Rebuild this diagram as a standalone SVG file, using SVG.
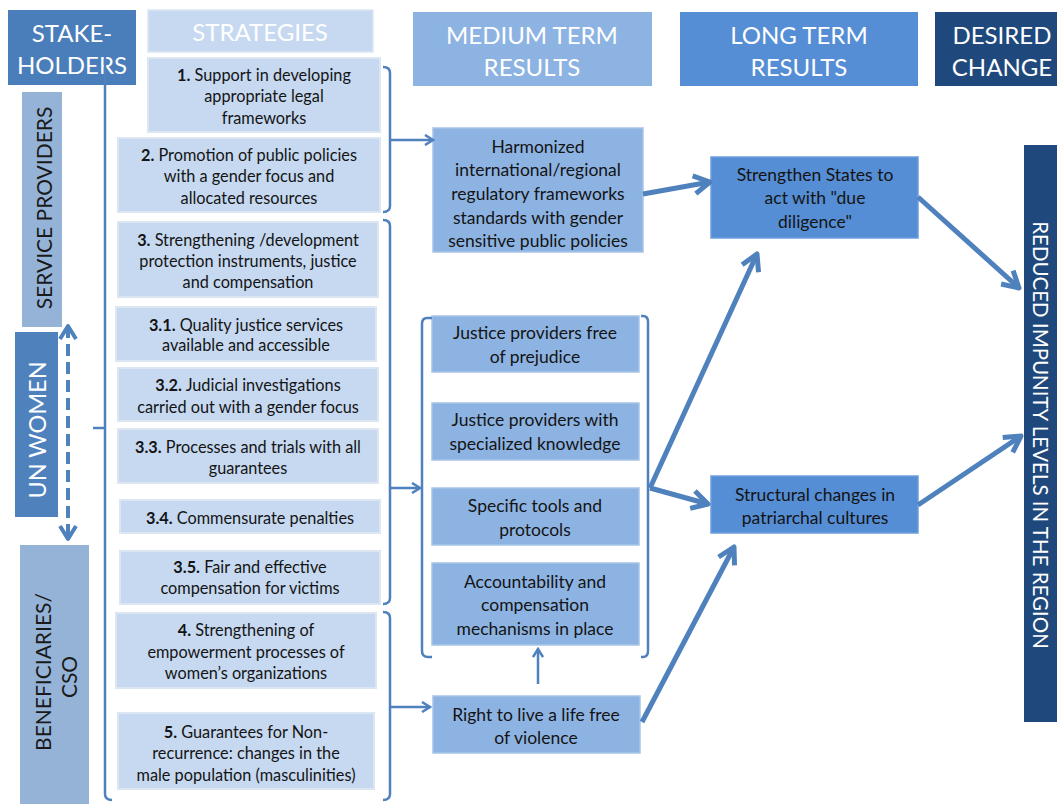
<svg xmlns="http://www.w3.org/2000/svg" width="1057" height="804" viewBox="0 0 1057 804">
<style>
text{font-family:Lato,"Open Sans","Liberation Sans",sans-serif;}
.hd{font-size:24px;fill:#ffffff;text-anchor:middle;}
.st{fill:#c6d9f1;stroke:#dce6f2;stroke-width:2;}
.mt{fill:#8db3e2;stroke:#a6c4e8;stroke-width:1.5;}
.lt{fill:#558ed5;stroke:#6d9edb;stroke-width:1.5;}
.t{font-size:16.3px;fill:#141414;text-anchor:middle;}
.m{font-size:17.5px;fill:#141414;text-anchor:middle;}
.b{font-weight:bold;}
.br{fill:none;stroke:#4f81bd;stroke-width:2.5;stroke-linejoin:round;}
.thick{fill:none;stroke:#4f81bd;stroke-width:5;}
.vt{font-size:21px;text-anchor:middle;dominant-baseline:central;}
</style>
<defs>
<marker id="ah" viewBox="0 0 12 12" refX="10" refY="6" markerWidth="12" markerHeight="12" markerUnits="userSpaceOnUse" orient="auto-start-reverse">
<path d="M2,1 L10,6 L2,11" fill="none" stroke="#4f81bd" stroke-width="2.5"/>
</marker>
<marker id="ahT" viewBox="0 0 24 24" refX="20" refY="12" markerWidth="24" markerHeight="24" markerUnits="userSpaceOnUse" orient="auto">
<path d="M4,3 L20,12 L4,21" fill="none" stroke="#4f81bd" stroke-width="5" stroke-linejoin="round"/>
</marker>
<marker id="ahD" viewBox="0 0 20 20" refX="16" refY="10" markerWidth="20" markerHeight="20" markerUnits="userSpaceOnUse" orient="auto-start-reverse">
<path d="M3,2 L16,10 L3,18" fill="none" stroke="#4f81bd" stroke-width="4" stroke-linejoin="round"/>
</marker>
</defs>
<rect width="1057" height="804" fill="#ffffff"/>

<g id="headers">
<g id="h-stake"><rect x="8" y="10" width="128" height="75" fill="#4a7ebb"/><text class="hd" x="72" y="42">STAKE-</text><text class="hd" x="72" y="74">HOLDERS</text></g>
<g id="h-strat"><rect x="148" y="10" width="225" height="42" fill="#c6d9f1" stroke="#dce6f2" stroke-width="1.5"/><text class="hd" x="260" y="41">STRATEGIES</text></g>
<g id="h-med"><rect x="413" y="12" width="239" height="74" fill="#8db3e2"/><text class="hd" x="532" y="44">MEDIUM TERM</text><text class="hd" x="532" y="76">RESULTS</text></g>
<g id="h-long"><rect x="680" y="12" width="238" height="74" fill="#558ed5"/><text class="hd" x="799" y="44">LONG TERM</text><text class="hd" x="799" y="76">RESULTS</text></g>
<g id="h-des"><rect x="935" y="12" width="122" height="74" fill="#1f497d"/><text class="hd" x="1002" y="44">DESIRED</text><text class="hd" x="1002" y="76">CHANGE</text></g>
</g>

<g id="stakeholders">
<g id="sh-service"><rect x="22" y="92" width="40" height="235" fill="#95b3d7"/><text class="vt" fill="#1a1a1a" transform="translate(43,208) rotate(-90)">SERVICE PROVIDERS</text></g>
<g id="sh-unwomen"><rect x="15" y="332" width="43" height="185" fill="#4f81bd"/><text class="vt" fill="#ffffff" style="font-size:23.5px" transform="translate(37,430) rotate(-90)">UN WOMEN</text></g>
<g id="sh-benef"><rect x="20" y="545" width="69" height="259" fill="#95b3d7"/><text class="vt" fill="#1a1a1a" transform="translate(42,672) rotate(-90)">BENEFICIARIES/</text><text class="vt" fill="#1a1a1a" transform="translate(68,677) rotate(-90)">CSO</text></g>
</g>

<g id="strategies">
<g id="s1"><rect class="st" x="148" y="58" width="232" height="74"/><text class="t" x="264" y="81"><tspan class="b">1.</tspan> Support in developing</text><text class="t" x="264" y="102">appropriate legal</text><text class="t" x="264" y="124">frameworks</text></g>
<g id="s2"><rect class="st" x="118" y="138" width="262" height="74"/><text class="t" x="249" y="161"><tspan class="b">2.</tspan> Promotion of public policies</text><text class="t" x="249" y="182">with a gender focus and</text><text class="t" x="249" y="204">allocated resources</text></g>
<g id="s3"><rect class="st" x="118" y="222" width="260" height="75"/><text class="t" x="248" y="246"><tspan class="b">3.</tspan> Strengthening /development</text><text class="t" x="248" y="267">protection instruments, justice</text><text class="t" x="248" y="288">and compensation</text></g>
<g id="s31"><rect class="st" x="116" y="307" width="260" height="54"/><text class="t" x="246" y="331"><tspan class="b">3.1.</tspan> Quality justice services</text><text class="t" x="246" y="351">available and accessible</text></g>
<g id="s32"><rect class="st" x="118" y="368" width="260" height="53"/><text class="t" x="248" y="391"><tspan class="b">3.2.</tspan> Judicial investigations</text><text class="t" x="248" y="413">carried out with a gender focus</text></g>
<g id="s33"><rect class="st" x="118" y="429" width="260" height="54"/><text class="t" x="248" y="453"><tspan class="b">3.3.</tspan> Processes and trials with all</text><text class="t" x="248" y="474">guarantees</text></g>
<g id="s34"><rect class="st" x="120" y="500" width="260" height="33"/><text class="t" x="250" y="524"><tspan class="b">3.4.</tspan> Commensurate penalties</text></g>
<g id="s35"><rect class="st" x="120" y="551" width="260" height="53"/><text class="t" x="250" y="573"><tspan class="b">3.5.</tspan> Fair and effective</text><text class="t" x="250" y="594">compensation for victims</text></g>
<g id="s4"><rect class="st" x="116" y="613" width="260" height="75"/><text class="t" x="246" y="636"><tspan class="b">4.</tspan> Strengthening of</text><text class="t" x="246" y="658">empowerment processes of</text><text class="t" x="246" y="679">women’s organizations</text></g>
<g id="s5"><rect class="st" x="118" y="713" width="256" height="76"/><text class="t" x="246" y="738"><tspan class="b">5.</tspan> Guarantees for Non-</text><text class="t" x="246" y="759">recurrence: changes in the</text><text class="t" x="246" y="781">male population (masculinities)</text></g>
</g>

<g id="medium">
<g id="m-harm"><rect class="mt" x="433" y="128" width="210" height="124"/><text class="m" x="538" y="153">Harmonized</text><text class="m" x="538" y="176">international/regional</text><text class="m" x="538" y="200">regulatory frameworks</text><text class="m" x="538" y="224">standards with gender</text><text class="m" x="538" y="247">sensitive public policies</text></g>
<g id="m-jfree"><rect class="mt" x="432" y="316" width="207" height="56"/><text class="m" x="535" y="339">Justice providers free</text><text class="m" x="535" y="363">of prejudice</text></g>
<g id="m-jknow"><rect class="mt" x="432" y="403" width="207" height="57"/><text class="m" x="535" y="426">Justice providers with</text><text class="m" x="535" y="450">specialized knowledge</text></g>
<g id="m-tools"><rect class="mt" x="432" y="488" width="207" height="57"/><text class="m" x="535" y="512">Specific tools and</text><text class="m" x="535" y="536">protocols</text></g>
<g id="m-acc"><rect class="mt" x="432" y="563" width="207" height="82"/><text class="m" x="535" y="588">Accountability and</text><text class="m" x="535" y="611">compensation</text><text class="m" x="535" y="635">mechanisms in place</text></g>
<g id="m-right"><rect class="mt" x="433" y="696" width="207" height="57"/><text class="m" x="536" y="721">Right to live a life free</text><text class="m" x="536" y="744">of violence</text></g>
</g>

<g id="long">
<g id="l-states"><rect class="lt" x="711" y="157" width="207" height="81"/><text class="m" x="815" y="181">Strengthen States to</text><text class="m" x="815" y="204">act with "due</text><text class="m" x="815" y="228">diligence"</text></g>
<g id="l-struct"><rect class="lt" x="711" y="476" width="207" height="57"/><text class="m" x="815" y="501">Structural changes in</text><text class="m" x="815" y="524">patriarchal cultures</text></g>
</g>

<g id="desired">
<rect x="1024" y="145" width="33" height="577" fill="#1f497d"/>
<text fill="#ffffff" style="font-size:20.5px;text-anchor:middle;dominant-baseline:central" transform="translate(1041,435) rotate(90)">REDUCED IMPUNITY LEVELS IN THE REGION</text>
</g>

<g id="connectors">
<path class="br" d="M105,57 L105,794 Q105,800 112,800"/>
<path class="br" d="M93,428 L105,428"/>
<path class="br" d="M383,67 Q390,67 390,73 L390,206 Q390,212 383,212"/>
<path class="br" d="M390,140 L433,140" marker-end="url(#ah)"/>
<path class="br" d="M383,220 Q390,220 390,226 L390,598 Q390,604 383,604"/>
<path class="br" d="M390,488 L420,488" marker-end="url(#ah)"/>
<path class="br" d="M383,612 Q390,612 390,618 L390,794 Q390,800 383,800"/>
<path class="br" d="M390,707 L430,707" marker-end="url(#ah)"/>
<path class="br" d="M432,318 L427,318 Q422,318 422,324 L422,651 Q422,657 428,657 L432,657"/>
<path class="br" d="M641,316 L643,316 Q648,316 648,322 L648,651 Q648,657 643,657 L641,657"/>
<path class="br" d="M538,684 L538,649" marker-end="url(#ah)"/>
<path class="thick" d="M643,194 L710,182" marker-end="url(#ahT)"/>
<path class="thick" d="M650,488 L757,254" marker-end="url(#ahT)"/>
<path class="thick" d="M650,488 L708,504" marker-end="url(#ahT)"/>
<path class="thick" d="M642,722 L734,547" marker-end="url(#ahT)"/>
<path class="thick" d="M918,197 L1019,288" marker-end="url(#ahT)"/>
<path class="thick" d="M918,505 L1021,436" marker-end="url(#ahT)"/>
<path d="M68,326 L68,539" fill="none" stroke="#4f81bd" stroke-width="4" stroke-dasharray="12,6" marker-start="url(#ahD)" marker-end="url(#ahD)"/>
</g>
</svg>
